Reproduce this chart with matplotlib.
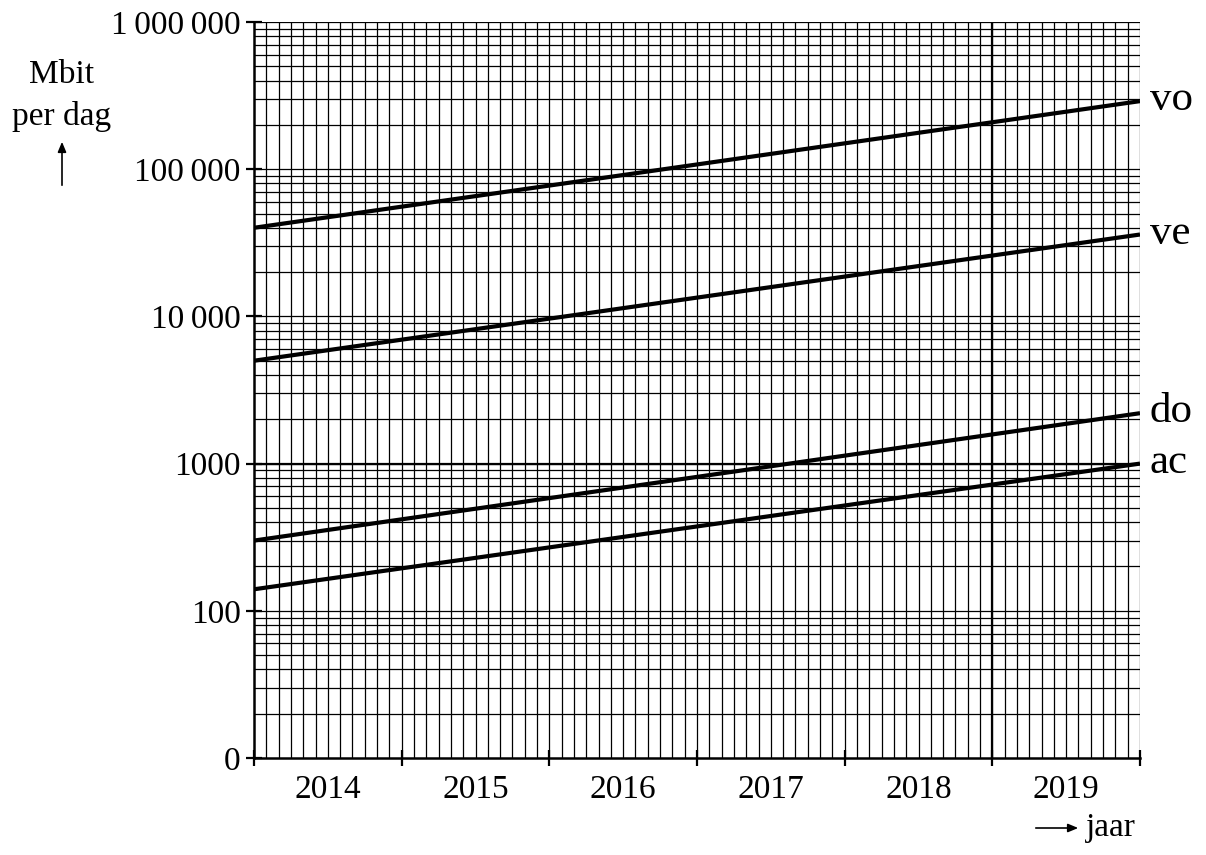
import matplotlib
matplotlib.use("Agg")
import matplotlib.pyplot as plt
import numpy as np

plt.rcParams['font.family'] = ['Liberation Serif', 'DejaVu Serif']

# start and end of each line (value at start of 2014 and end of 2019)
years = [2014, 2020]
vo = [40000, 290000]
ve = [5000, 36000]
do = [300, 2200]
ac = [140, 1000]
series = [("vo", vo), ("ve", ve), ("do", do), ("ac", ac)]

year_labels = ["2014", "2015", "2016", "2017", "2018", "2019"]
ytick_vals = [10, 100, 1000, 10000, 100000, 1000000]
ytick_labels = ["0", "100", "1000", "10\u2009000", "100\u2009000", "1\u2009000\u2009000"]

fig = plt.figure(figsize=(12.06, 8.55), dpi=100)
ax = fig.add_axes([254/1206, 1-758/855, 886/1206, 736/855])
ax.set_yscale('log')
ax.set_xlim(2014, 2020)
ax.set_ylim(10, 1e6)

# fine grid: months vertically, log minor lines horizontally
months = 2014 + np.arange(1, 73) / 12
ax.vlines(months, 10, 1e6, color='k', lw=0.9, zorder=1)
hl = [m * 10**e for e in range(1, 6) for m in range(2, 11)]
ax.hlines(hl, 2014, 2020, color='k', lw=0.9, zorder=1)
ax.axhline(1000, color='k', lw=1.6, zorder=1)
ax.axvline(2019, color='k', lw=1.6, zorder=1)

for name, vals in series:
    ax.plot(years, vals, color='k', lw=3.0, solid_capstyle='butt', zorder=3)
    ax.annotate(name, xy=(years[-1], vals[-1]), xytext=(7, -6.5),
                textcoords='offset points', va='baseline', ha='left',
                fontsize=31, annotation_clip=False)

ax.set_yticks(ytick_vals)
ax.set_yticklabels(ytick_labels, fontsize=24)
ax.yaxis.set_minor_locator(matplotlib.ticker.NullLocator())
ax.tick_params(axis='y', which='major', direction='inout', length=11, width=1.6, pad=4)

ax.set_xticks(range(2014, 2021))
ax.set_xticklabels([])
ax.set_xticks([y + 0.5 for y in range(2014, 2020)], minor=True)
ax.set_xticklabels(year_labels, minor=True, fontsize=24)
ax.tick_params(axis='x', which='major', direction='inout', length=11, width=1.6)
ax.tick_params(axis='x', which='minor', length=0, pad=12)

for s in ['top', 'right']:
    ax.spines[s].set_visible(False)
for s in ['left', 'bottom']:
    ax.spines[s].set_linewidth(1.8)

fig.text(62/1206, 1-83/855, "Mbit", ha='center', va='baseline', fontsize=24)
fig.text(62/1206, 1-125/855, "per dag", ha='center', va='baseline', fontsize=24)
fig.add_artist(matplotlib.patches.FancyArrowPatch(
    (62/1206, 1-188/855), (62/1206, 1-139/855), transform=fig.transFigure,
    arrowstyle='-|>,head_length=6,head_width=2.5', lw=1.2, color='k'))
fig.add_artist(matplotlib.patches.FancyArrowPatch(
    (1033/1206, 1-828/855), (1081/1206, 1-828/855), transform=fig.transFigure,
    arrowstyle='-|>,head_length=6,head_width=2.5', lw=1.2, color='k'))
fig.text(1086/1206, 1-836/855, "jaar", ha='left', va='baseline', fontsize=24)

fig.savefig("out.png", dpi=100)
